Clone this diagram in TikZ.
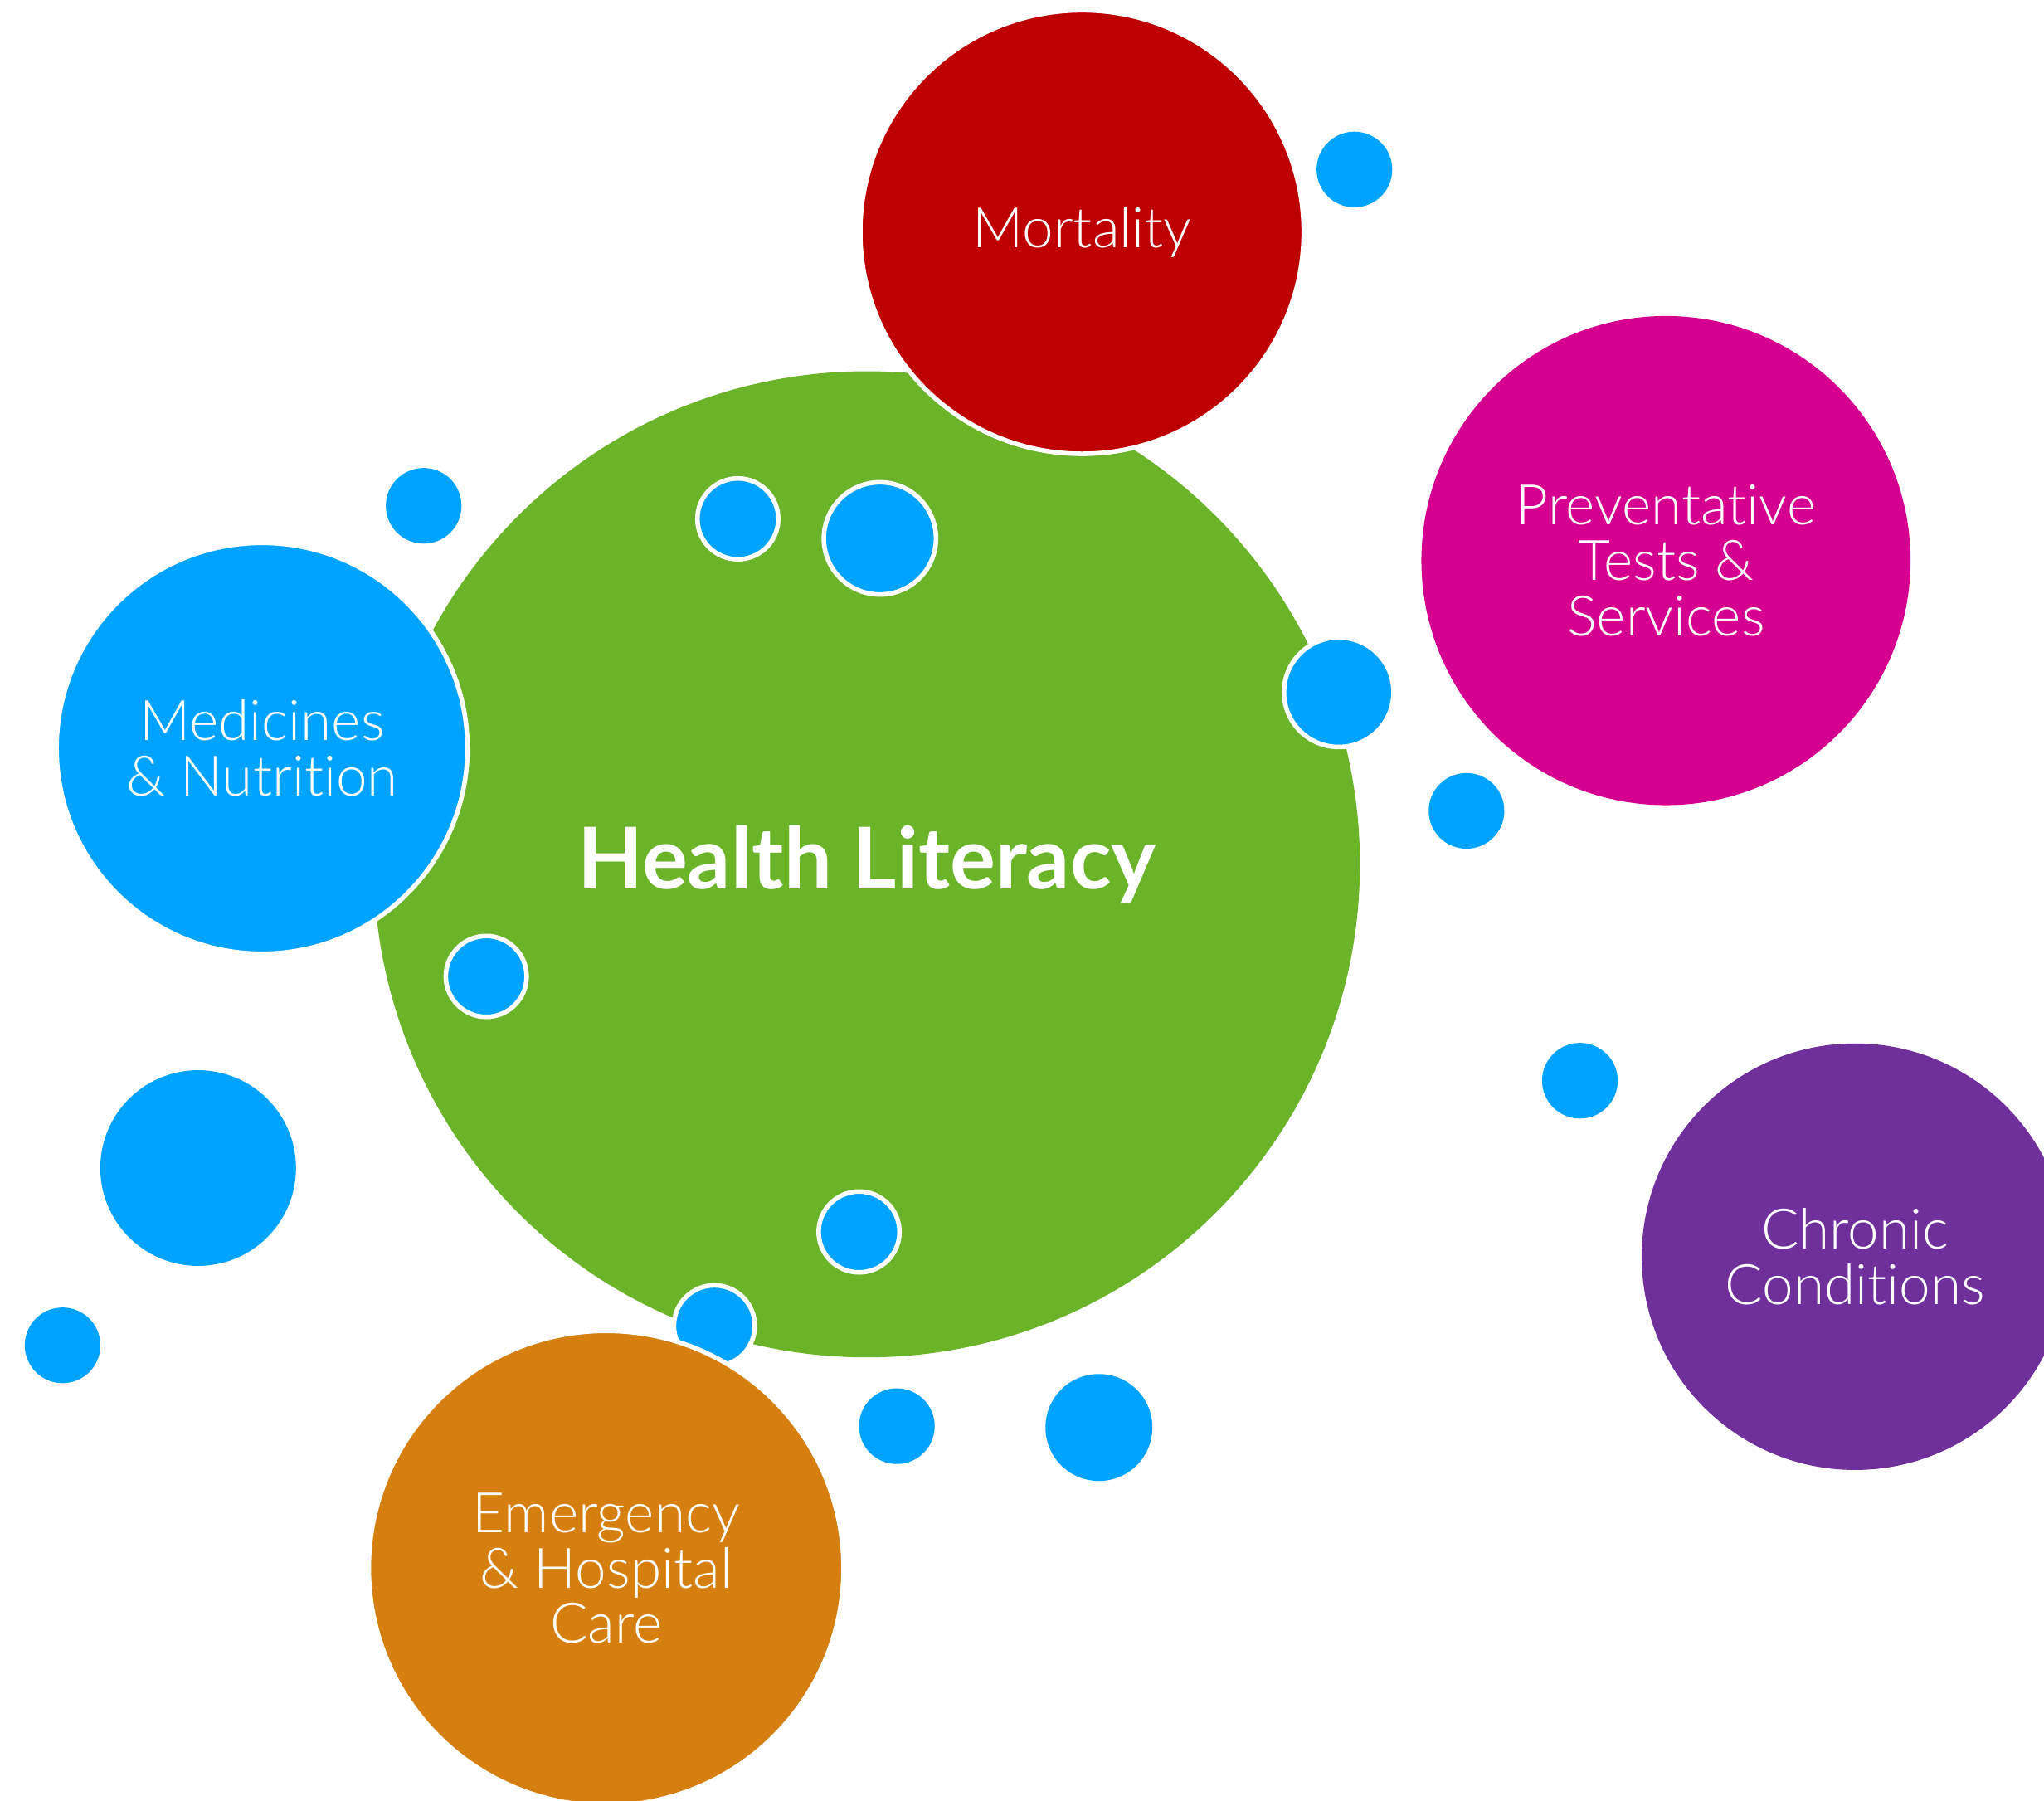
\documentclass[tikz,border=0pt]{standalone}
\usepackage{fontspec}
\setmainfont{Lato}
\newfontfamily\thinfont{Lato Light}[Ligatures=NoCommon]
\usepackage{tikz}
\usetikzlibrary{positioning}

\definecolor{litgreen}{HTML}{6BB42A}
\definecolor{mortred}{HTML}{BE0000}
\definecolor{prevpink}{HTML}{D5008F}
\definecolor{chronpurple}{HTML}{70309C}
\definecolor{medblue}{HTML}{00A3FF}
\definecolor{emerorange}{HTML}{D47F10}

\begin{document}
\begin{tikzpicture}[
        x=0.01cm, y=-0.01cm,
        topic/.style={
                circle,
                inner sep=0pt,
                text=white,
                align=center,
                font=\thinfont\fontsize{12.2}{12.1}\selectfont
            },
        core/.style={
                circle,
                inner sep=0pt,
                fill=litgreen
            },
        bubble/.style={
                circle,
                inner sep=0pt,
                fill=medblue,
                minimum size=#1
            },
        rimmed/.style={draw=white, line width=1pt}
    ]
    \clip (0,0) rectangle (1568,1381);
    \fill[white] (0,0) rectangle (1568,1381);

    % Centre
    \node[core, minimum size=7.56cm] (literacy) at (665,663) {};

    % Bubbles lying on the centre
    \node[bubble=0.62cm, rimmed] (b3) at (566,398) {};
    \node[bubble=0.86cm, rimmed] (b4) at (675,413) {};
    \node[bubble=0.84cm, rimmed] (b5) at (1027,531) {};
    \node[bubble=0.62cm, rimmed] (b7) at (373,749) {};
    \node[bubble=0.62cm, rimmed] (b11) at (659,945) {};
    \node[bubble=0.62cm, rimmed] (b12) at (548,1017) {};

    % Loose bubbles
    \node[bubble=0.58cm] (b1) at (1039,130) {};
    \node[bubble=0.58cm] (b2) at (325,388) {};
    \node[bubble=0.58cm] (b6) at (1125,622) {};
    \node[bubble=0.58cm] (b8) at (1212,829) {};
    \node[bubble=1.50cm] (b9) at (152,896) {};
    \node[bubble=0.58cm] (b10) at (48,1032) {};
    \node[bubble=0.58cm] (b13) at (688,1094) {};
    \node[bubble=0.82cm] (b14) at (843,1095) {};

    % Outcomes
    \node[topic, rimmed, fill=mortred, minimum size=3.40cm] (mortality) at (830,178) {Mortality};
    \node[topic, fill=prevpink, minimum size=3.75cm] (preventative) at (1278,430) {Preventative\\Tests \&\\Services};
    \node[topic, rimmed, fill=medblue, minimum size=3.15cm] (medicines) at (201,574) {Medicines\\\& Nutrition};
    \node[topic, fill=chronpurple, minimum size=3.27cm] (chronic) at (1423,964) {Chronic\\Conditions};
    \node[topic, rimmed, fill=emerorange, minimum size=3.64cm] (emergency) at (465,1203) {Emergency\\\& Hospital\\Care};

    \node[text=white, font=\fontsize{18.6}{20}\selectfont\bfseries] (title) at (literacy) {Health Literacy};
\end{tikzpicture}
\end{document}
